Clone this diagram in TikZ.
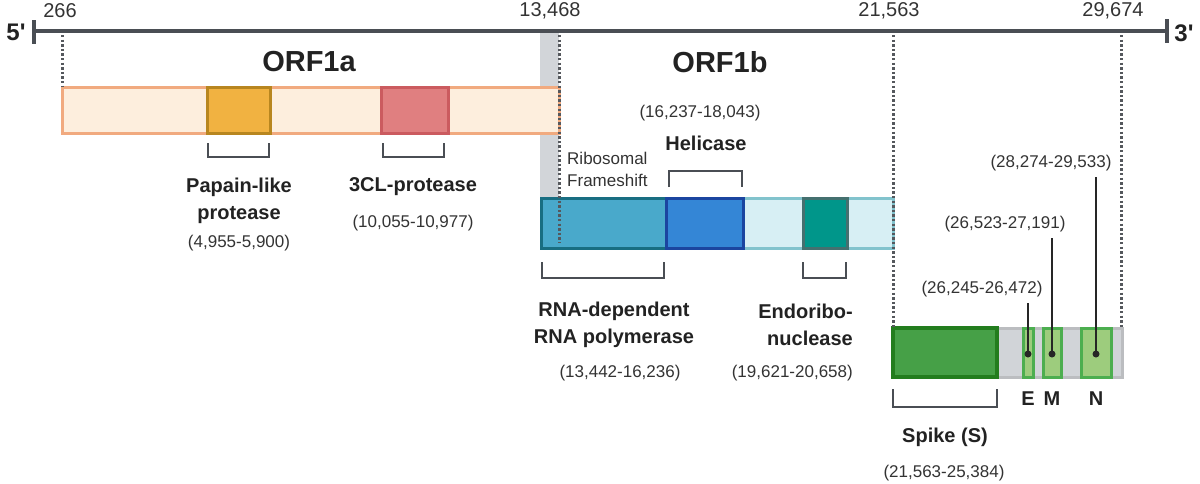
\documentclass[tikz,border=0pt]{standalone}
\usepackage{fontspec}
\setmainfont{Liberation Sans}
\newfontfamily\rawfont{Liberation Sans}[Ligatures=TeXOff]
\definecolor{axis}{HTML}{4A4E54}
\definecolor{dotc}{HTML}{55585D}
\definecolor{txt}{HTML}{222222}
\definecolor{txtn}{HTML}{333333}
\definecolor{orfFill}{HTML}{FDEEDD}
\definecolor{orfLine}{HTML}{F1AA7F}
\definecolor{plpFill}{HTML}{F1B241}
\definecolor{plpLine}{HTML}{B8861F}
\definecolor{clFill}{HTML}{E07F80}
\definecolor{clLine}{HTML}{CB5B5F}
\definecolor{band}{HTML}{D2D5D9}
\definecolor{obFill}{HTML}{D7EFF4}
\definecolor{obLine}{HTML}{82C3CD}
\definecolor{rdFill}{HTML}{49A9CB}
\definecolor{rdLine}{HTML}{186E82}
\definecolor{heFill}{HTML}{3486D6}
\definecolor{heLine}{HTML}{1B45A0}
\definecolor{enFill}{HTML}{00968A}
\definecolor{enLine}{HTML}{44706F}
\definecolor{stFill}{HTML}{D1D4D8}
\definecolor{stLine}{HTML}{BBBDC0}
\definecolor{spFill}{HTML}{46A047}
\definecolor{spLine}{HTML}{237D1E}
\definecolor{smFill}{HTML}{9DCC7D}
\definecolor{smLine}{HTML}{4CAE4F}
\begin{document}
\begin{tikzpicture}[x=1pt,y=-1pt,
  box/.style={draw, line width=3pt, inner sep=0pt, outer sep=0pt, anchor=north west},
  bracket/.style={draw=axis, line width=2.5pt},
  dotline/.style={draw=dotc, line width=3pt, dash pattern=on 2.4pt off 2.2pt},
  axisline/.style={draw=axis, line width=4pt},
  lab/.style={font=\bfseries\fontsize{20}{27}\selectfont, text=txt, align=center, inner sep=0pt},
  big/.style={font=\bfseries\fontsize{29}{32}\selectfont, text=txt, inner sep=0pt},
  num/.style={font=\fontsize{17}{20}\selectfont, text=txtn, inner sep=0pt},
  top/.style={font=\fontsize{20}{24}\selectfont, text=txtn, inner sep=0pt},
  small/.style={font=\fontsize{17}{22}\selectfont, text=txtn, align=left, inner sep=0pt},
  endlab/.style={font=\rawfont\bfseries\fontsize{24}{26}\selectfont, text=txt, inner sep=0pt},
  gdot/.style={circle, fill=black!85, inner sep=0pt, minimum size=7pt},
  lead/.style={draw=black!85, line width=2pt}]
\useasboundingbox (0,0) rectangle (1200,483);
% axis
\coordinate (L) at (34,31);
\coordinate (R) at (1167,31);
\draw[axisline] (L) -- (R);
\draw[axisline] (34,20) -- (34,44);
\draw[axisline] (1167,19) -- (1167,43);
\node[endlab] (five) at (16,32) {5'};
\node[endlab] (three) at (1184,33) {3'};
\node[top] (t1) at (60,11) {266};
\node[top] (t2) at (550,11) {13,468};
\node[top] (t3) at (889,11) {21,563};
\node[top] (t4) at (1113,11) {29,674};
% ribosomal frameshift band
\fill[band] (540,33) rectangle (559,198);
% ORF1a
\node[big] (orf1a) at (309,62) {ORF1a};
\node[big] (orf1b) at (720,62) {ORF1b};
\node[box, draw=orfLine, fill=orfFill, minimum width=497pt, minimum height=46pt] (o1a) at (62,87) {};
\node[box, draw=plpLine, fill=plpFill, minimum width=63pt, minimum height=46pt] (plp) at (207,87) {};
\node[box, draw=clLine, fill=clFill, minimum width=67pt, minimum height=46pt] (cl) at (381,87) {};
% ORF1b
\node[box, draw=obLine, fill=obFill, minimum width=352pt, minimum height=50pt] (o1b) at (541,198) {};
\node[box, draw=rdLine, fill=rdFill, minimum width=125pt, minimum height=50pt] (rd) at (541,198) {};
\node[box, draw=heLine, fill=heFill, minimum width=77pt, minimum height=50pt] (he) at (666,198) {};
\node[box, draw=enLine, fill=enFill, minimum width=44pt, minimum height=50pt] (en) at (803,198) {};
% structural
\node[box, draw=stLine, fill=stFill, minimum width=229pt, minimum height=49pt] (st) at (893,328) {};
\node[box, draw=spLine, fill=spFill, line width=4pt, minimum width=104pt, minimum height=49pt] (sp) at (893,328) {};
\node[box, draw=smLine, fill=smFill, minimum width=10pt, minimum height=49pt] (gE) at (1023,328) {};
\node[box, draw=smLine, fill=smFill, minimum width=18pt, minimum height=49pt] (gM) at (1043,328) {};
\node[box, draw=smLine, fill=smFill, minimum width=30pt, minimum height=49pt] (gN) at (1081,328) {};
% dotted guide lines
\draw[dotline] (62,35) -- (62,86);
\draw[dotline] (559,35) -- (559,243);
\draw[dotline] (893,35) -- (893,327);
\draw[dotline] (1121,35) -- (1121,327);
% brackets
\draw[bracket] (208,143) -- (208,157) -- (269,157) -- (269,143);
\draw[bracket] (383,143) -- (383,157) -- (444,157) -- (444,143);
\draw[bracket] (669,187) -- (669,171) -- (742,171) -- (742,187);
\draw[bracket] (542,262) -- (542,278) -- (664,278) -- (664,262);
\draw[bracket] (803,262) -- (803,278) -- (846,278) -- (846,262);
\draw[bracket] (893,389) -- (893,407) -- (997,407) -- (997,389);
% ORF1a labels
\node[lab] (plpL) at (239,201) {Papain-like\\protease};
\node[num] (plpN) at (239,243) {(4,955-5,900)};
\node[lab] (clL) at (413,187) {3CL-protease};
\node[num] (clN) at (413,223) {(10,055-10,977)};
% ORF1b labels
\node[num] (heN) at (700,113) {(16,237-18,043)};
\node[lab] (heL) at (706,143) {Helicase};
\node[small, anchor=west] (rf) at (567,169) {Ribosomal\\Frameshift};
\node[lab] (rdL) at (614,325) {RNA-dependent\\RNA polymerase};
\node[num] (rdN) at (620,373) {(13,442-16,236)};
\node[lab, align=right, anchor=east] (enL) at (853,325) {Endoribo-\\nuclease};
\node[num, anchor=east] (enN) at (853,373) {(19,621-20,658)};
% structural labels
\node[lab] (spL) at (945,437) {Spike (S)};
\node[num] (spN) at (944,473) {(21,563-25,384)};
\node[lab] (lE) at (1028,399) {E};
\node[lab] (lM) at (1052,399) {M};
\node[lab] (lN) at (1096,399) {N};
\node[num] (nE) at (982,289) {(26,245-26,472)};
\node[num] (nM) at (1005,224) {(26,523-27,191)};
\node[num] (nN) at (1051,163) {(28,274-29,533)};
\node[gdot] (dE) at (1028,354) {};
\node[gdot] (dM) at (1052,354) {};
\node[gdot] (dN) at (1096,354) {};
\draw[lead] (dE.center) -- ([yshift=-6pt]dE.center |- nE.south);
\draw[lead] (dM.center) -- ([yshift=-6pt]dM.center |- nM.south);
\draw[lead] (dN.center) -- ([yshift=-6pt]dN.center |- nN.south);
\end{tikzpicture}
\end{document}
